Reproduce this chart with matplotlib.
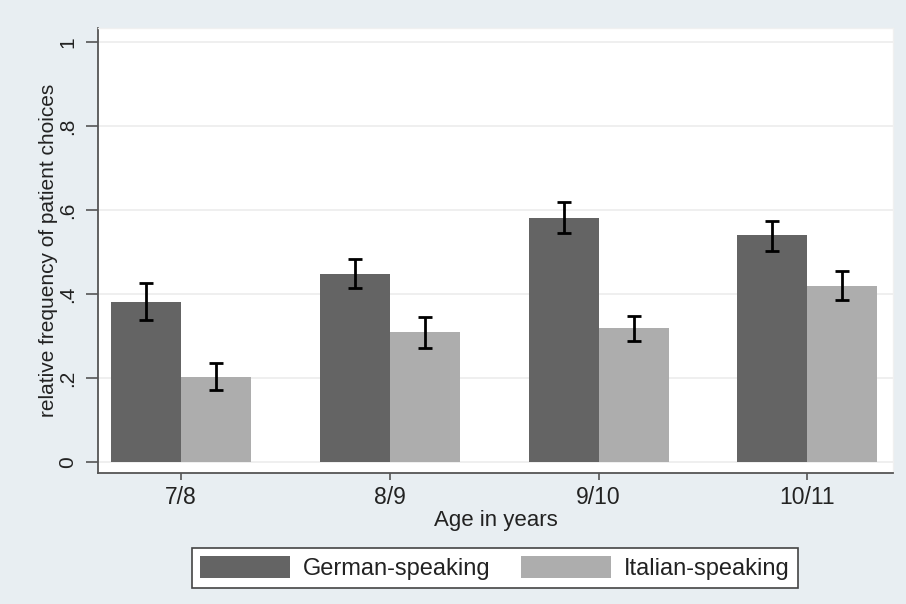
import numpy as np
import matplotlib.pyplot as plt

plt.rcParams['font.family'] = ['Liberation Sans', 'DejaVu Sans']

# data
ages = ['7/8', '8/9', '9/10', '10/11']
german = [0.381, 0.448, 0.581, 0.540]
german_lo = [0.338, 0.414, 0.545, 0.502]
german_hi = [0.426, 0.483, 0.619, 0.574]
italian = [0.202, 0.310, 0.319, 0.419]
italian_lo = [0.171, 0.271, 0.288, 0.386]
italian_hi = [0.236, 0.345, 0.348, 0.455]
yticks = [0, 0.2, 0.4, 0.6, 0.8, 1.0]
ytick_labels = ['0', '.2', '.4', '.6', '.8', '1']

bg = '#e8eef2'
dark = '#646464'
light = '#adadad'

fig = plt.figure(figsize=(9.06, 6.04), dpi=100, facecolor=bg)
ax = fig.add_axes([98 / 906, 1 - 473 / 604, (893 - 98) / 906, (473 - 28) / 604])
ax.set_facecolor('white')

x = np.arange(1, len(ages) + 1)
w = 0.335

g = np.array(german)
it = np.array(italian)
g_err = [g - np.array(german_lo), np.array(german_hi) - g]
it_err = [it - np.array(italian_lo), np.array(italian_hi) - it]

ax.bar(x - w / 2, g, w, color=dark, label='German-speaking', zorder=2)
ax.bar(x + w / 2, it, w, color=light, label='Italian-speaking', zorder=2)
ax.errorbar(x - w / 2, g, yerr=g_err, fmt='none', ecolor='black',
            elinewidth=2, capsize=5, capthick=2, zorder=3)
ax.errorbar(x + w / 2, it, yerr=it_err, fmt='none', ecolor='black',
            elinewidth=2, capsize=5, capthick=2, zorder=3)

ax.set_xlim(0.603, 4.41)
ax.set_ylim(-0.026, 1.033)
ax.set_yticks(yticks)
ax.set_yticklabels(ytick_labels, rotation=90, va='center')
ax.set_xticks(x)
ax.set_xticklabels(ages)
ax.grid(axis='y', color='#ececec', linewidth=1.2, zorder=0)

ax.tick_params(axis='y', length=9, width=1.2, color='#555555',
               labelsize=15, pad=6, labelcolor='#222222')
ax.tick_params(axis='x', length=5, width=1.2, color='#555555',
               labelsize=16.5, pad=4, labelcolor='#222222')

for side in ['left', 'bottom']:
    ax.spines[side].set_color('#555555')
    ax.spines[side].set_linewidth(1.3)
for side in ['top', 'right']:
    ax.spines[side].set_color('#f0f0f0')
    ax.spines[side].set_linewidth(1)

ax.set_ylabel('relative frequency of patient choices', fontsize=15,
              color='#222222', labelpad=0)
ax.set_xlabel('Age in years', fontsize=16, color='#222222', labelpad=1)

leg = fig.legend(loc='center', bbox_to_anchor=(495 / 906, 1 - 568 / 604),
                 ncol=2, fontsize=17, frameon=True, fancybox=False,
                 edgecolor='#444444', facecolor='white', framealpha=1,
                 handlelength=3.8, handleheight=1.1, handletextpad=0.55,
                 columnspacing=1.3, borderpad=0.35, borderaxespad=0,
                 labelcolor='#222222')
leg.get_frame().set_linewidth(1.2)

fig.savefig('out.png', dpi=100, facecolor=bg)
